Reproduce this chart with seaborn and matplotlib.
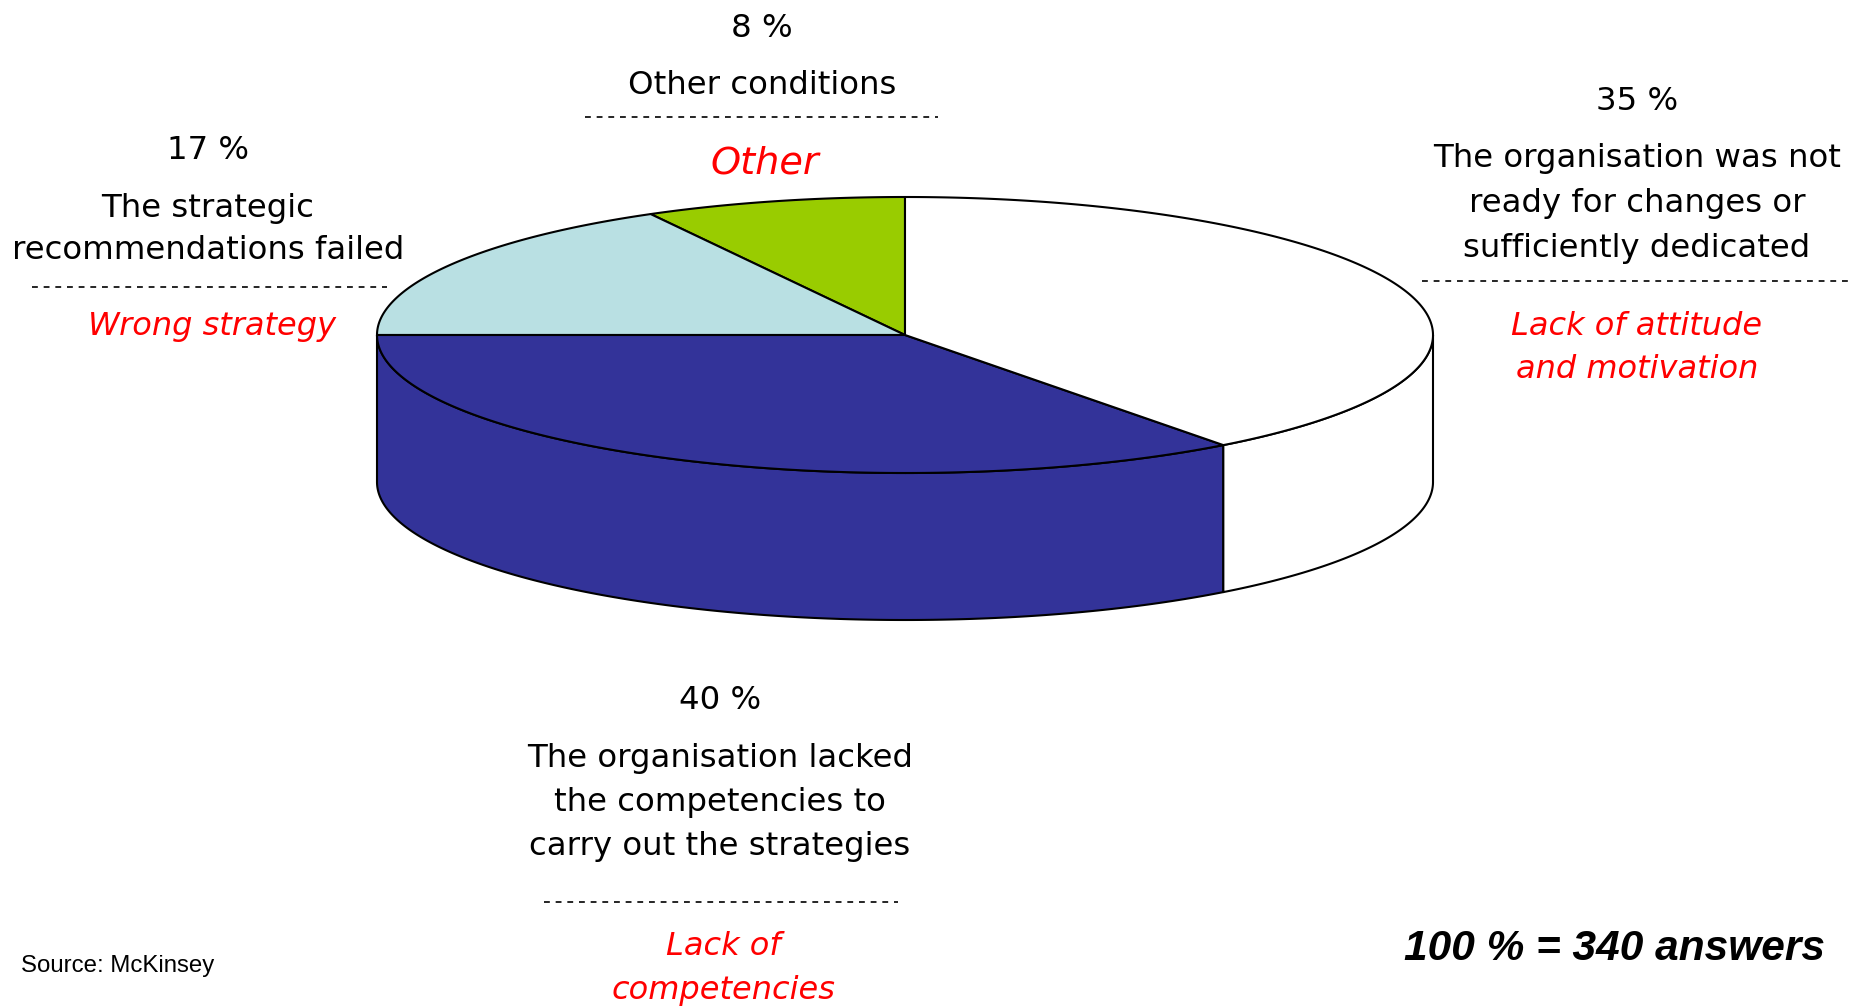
import numpy as np
import matplotlib
matplotlib.use("Agg")
import matplotlib.pyplot as plt
from matplotlib.patches import Polygon
import seaborn as sns

# ---------------- data ----------------
# slices counter-clockwise from 12 o'clock, share of the circle as drawn
slice_names = ["Other", "Wrong strategy", "Lack of competencies",
               "Lack of attitude and motivation"]
slice_shares = [8, 17, 35.3, 39.7]
slice_colors = ["#99CC00", "#B9E0E3", "#333399", "#FFFFFF"]

# annotation texts (same order as the slices)
label_pcts = [8, 17, 40, 35]
label_texts = [
    ["Other conditions"],
    ["The strategic", "recommendations failed"],
    ["The organisation lacked", "the competencies to", "carry out the strategies"],
    ["The organisation was not", "ready for changes or", "sufficiently dedicated"],
]
category_texts = [
    ["Other"],
    ["Wrong strategy"],
    ["Lack of", "competencies"],
    ["Lack of attitude", "and motivation"],
]
source_text = "Source: McKinsey"
total_text = "100 % = 340 answers"

# ---------------- style ----------------
sns.set_theme(style="white")
plt.rcParams["font.family"] = ["DejaVu Sans"]

W, H = 1862, 1006
fig = plt.figure(figsize=(W / 100, H / 100), dpi=100)
ax = fig.add_axes([0, 0, 1, 1])
ax.set_xlim(0, W)
ax.set_ylim(H, 0)
ax.axis("off")

# pie geometry (pixel space)
cx, cy, rx, ry, depth = 905, 335, 528, 138, 147
start = 90.0
lw = 1.5


def arc(a0, a1, dy=0.0, n=300):
    t = np.radians(np.linspace(a0, a1, n))
    return np.column_stack([cx + rx * np.cos(t), cy - ry * np.sin(t) + dy])


angles = start + 360.0 * np.concatenate([[0], np.cumsum(slice_shares)]) / np.sum(slice_shares)

# side walls (front half: 180..360 degrees)
for i, col in enumerate(slice_colors):
    a0, a1 = angles[i], angles[i + 1]
    for off in (0, 360):
        s, e = max(a0, 180 + off), min(a1, 360 + off)
        if e > s:
            top = arc(s, e)
            bot = arc(s, e, depth)[::-1]
            ax.add_patch(Polygon(np.vstack([top, bot]), closed=True,
                                 facecolor=col, edgecolor="black", lw=lw,
                                 joinstyle="round", zorder=2))

# top wedges
for i, col in enumerate(slice_colors):
    pts = np.vstack([[cx, cy], arc(angles[i], angles[i + 1])])
    ax.add_patch(Polygon(pts, closed=True, facecolor=col, edgecolor="black",
                         lw=lw, joinstyle="round", zorder=3))

# ---------------- annotations ----------------
layout = [
    dict(x=762, pb=37, tb=94, ts=44, dy=116.7, d0=585, d1=938, cxp=765, cb=173, cs=44, csz=27.5),
    dict(x=208, pb=159, tb=217, ts=42, dy=287, d0=32, d1=387, cxp=212, cb=335, cs=44, csz=23),
    dict(x=720, pb=709, tb=767, ts=44, dy=902, d0=544, d1=898, cxp=723, cb=955, cs=44, csz=23),
    dict(x=1637, pb=110, tb=167, ts=45, dy=281, d0=1422, d1=1850, cxp=1637, cb=335, cs=43, csz=23),
]

fs = 23.3
for i, L in enumerate(layout):
    ax.text(L["x"], L["pb"], f"{label_pcts[i]} %", ha="center", va="baseline",
            fontsize=fs, color="black")
    for k, line in enumerate(label_texts[i]):
        ax.text(L["x"], L["tb"] + k * L["ts"], line, ha="center", va="baseline",
                fontsize=fs, color="black")
    ax.plot([L["d0"], L["d1"]], [L["dy"], L["dy"]], color="black", lw=1.2,
            linestyle=(0, (3.5, 3.5)), zorder=1)
    for k, line in enumerate(category_texts[i]):
        ax.text(L["cxp"], L["cb"] + k * L["cs"], line, ha="center", va="baseline",
                fontsize=L["csz"], color="#FF0000", style="italic")

ax.text(21, 972, source_text, ha="left", va="baseline", fontsize=17.3,
        family=["Liberation Sans", "DejaVu Sans"], color="black")
ax.text(1825, 960, total_text, ha="right", va="baseline", fontsize=30.5,
        family=["Liberation Sans", "DejaVu Sans"], weight="bold", style="italic",
        color="black")

fig.savefig("out.png", dpi=100, facecolor="white")
